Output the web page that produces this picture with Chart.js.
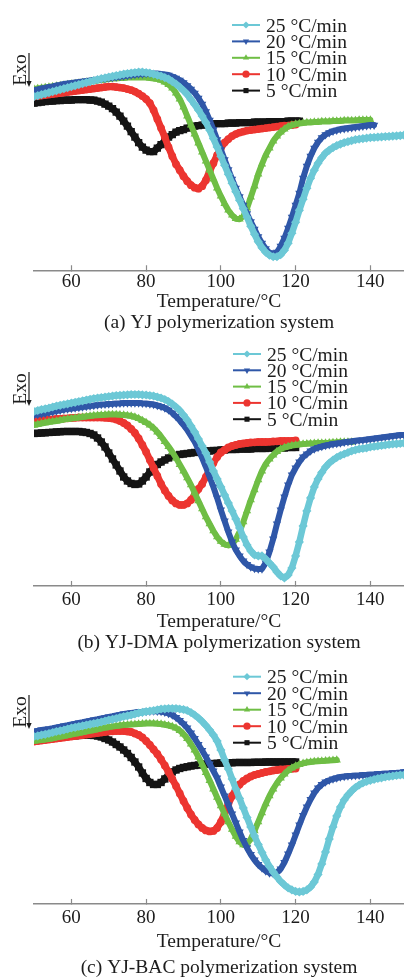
<!DOCTYPE html>
<html>
<head>
<meta charset="utf-8">
<script src="https://cdn.jsdelivr.net/npm/chart.js@4/dist/chart.umd.min.js"></script>
<style>
  html, body { margin: 0; padding: 0; background: #ffffff; }
  #sheet { position: relative; width: 404px; height: 978px; overflow: hidden; background: #ffffff; }
  .panel { position: absolute; left: 0; width: 404px; }
</style>
</head>
<body>
<div id="sheet">
  <div class="panel" style="top:0px;height:333px"><canvas id="dscYJ"></canvas></div>
  <div class="panel" style="top:330px;height:323px"><canvas id="dscDMA"></canvas></div>
  <div class="panel" style="top:650px;height:328px"><canvas id="dscBAC"></canvas></div>
</div>
<script>
// Temperature axis shared by every DSC trace (°C, one reading per degree)
const temperatureC = [
  50,51,52,53,54,55,56,57,58,59,60,61,62,63,64,65,66,67,68,69,
  70,71,72,73,74,75,76,77,78,79,80,81,82,83,84,85,86,87,88,89,
  90,91,92,93,94,95,96,97,98,99,100,101,102,103,104,105,106,107,108,109,
  110,111,112,113,114,115,116,117,118,119,120,121,122,123,124,125,126,127,128,129,
  130,131,132,133,134,135,136,137,138,139,140,141,142,143,144,145,146,147,148,149
];
const tempTicks = [60, 80, 100, 120, 140];
const rateLabels = ['25 °C/min', '20 °C/min', '15 °C/min', '10 °C/min', '5 °C/min'];

// Heat flow (arbitrary units, exo down) — YJ system
const yj25 = [1.735,1.745,1.755,1.765,1.775,1.785,1.795,1.805,1.815,1.825,
  1.835,1.845,1.855,1.865,1.875,1.885,1.895,1.905,1.915,1.922,
  1.93,1.937,1.945,1.952,1.96,1.965,1.97,1.975,1.98,1.98,
  1.975,1.97,1.96,1.95,1.94,1.925,1.91,1.885,1.86,1.83,
  1.795,1.755,1.705,1.655,1.60,1.54,1.475,1.40,1.315,1.23,
  1.14,1.05,0.96,0.87,0.785,0.70,0.615,0.53,0.44,0.36,
  0.285,0.225,0.18,0.15,0.135,0.135,0.155,0.20,0.27,0.37,
  0.48,0.60,0.71,0.82,0.92,1.00,1.07,1.125,1.17,1.20,
  1.225,1.245,1.26,1.275,1.285,1.295,1.305,1.31,1.315,1.32,
  1.325,1.327,1.33,1.332,1.335,1.337,1.34,1.342,1.345,1.35];
const yj20 = [1.80,1.807,1.815,1.822,1.83,1.837,1.845,1.852,1.86,1.865,
  1.87,1.875,1.88,1.885,1.89,1.895,1.90,1.905,1.91,1.915,
  1.92,1.925,1.93,1.935,1.94,1.945,1.95,1.955,1.96,1.962,
  1.965,1.965,1.965,1.965,1.96,1.955,1.95,1.935,1.92,1.90,
  1.875,1.845,1.81,1.77,1.72,1.66,1.585,1.50,1.405,1.305,
  1.205,1.105,1.005,0.91,0.82,0.735,0.65,0.565,0.485,0.41,
  0.335,0.27,0.215,0.175,0.16,0.18,0.24,0.32,0.42,0.53,
  0.65,0.77,0.92,1.04,1.14,1.22,1.28,1.325,1.355,1.375,
  1.39,1.40,1.41,1.415,1.42,1.425,1.43,1.435,1.44,1.445,
  1.45,1.45];
const yj15 = [1.81,1.815,1.82,1.825,1.83,1.835,1.84,1.845,1.85,1.855,
  1.86,1.865,1.87,1.875,1.88,1.885,1.89,1.895,1.90,1.905,
  1.91,1.915,1.915,1.92,1.92,1.925,1.925,1.925,1.925,1.925,
  1.925,1.92,1.915,1.91,1.90,1.88,1.855,1.82,1.77,1.71,
  1.63,1.54,1.45,1.36,1.27,1.18,1.09,1.00,0.91,0.82,
  0.74,0.665,0.60,0.55,0.515,0.51,0.54,0.62,0.73,0.84,
  0.96,1.06,1.15,1.22,1.29,1.34,1.38,1.41,1.435,1.45,
  1.46,1.465,1.47,1.475,1.475,1.48,1.48,1.485,1.485,1.485,
  1.49,1.49,1.49,1.495,1.495,1.495,1.495,1.50,1.50,1.50,
  1.50];
const yj10 = [1.735,1.74,1.745,1.75,1.755,1.76,1.765,1.77,1.775,1.78,
  1.785,1.79,1.795,1.80,1.805,1.81,1.815,1.82,1.825,1.83,
  1.835,1.835,1.83,1.825,1.82,1.81,1.80,1.785,1.765,1.74,
  1.71,1.67,1.60,1.51,1.42,1.33,1.23,1.14,1.06,1.00,
  0.94,0.89,0.85,0.825,0.815,0.84,0.90,0.99,1.07,1.15,
  1.22,1.275,1.31,1.34,1.36,1.375,1.385,1.395,1.40,1.405,
  1.41,1.415,1.42,1.425,1.43,1.435,1.44,1.445,1.445,1.45,
  1.455];
const yj5 = [1.67,1.675,1.68,1.685,1.69,1.69,1.695,1.695,1.70,1.70,
  1.70,1.705,1.705,1.705,1.705,1.70,1.70,1.69,1.68,1.66,
  1.64,1.615,1.58,1.54,1.49,1.44,1.385,1.33,1.275,1.23,
  1.20,1.185,1.185,1.22,1.255,1.29,1.33,1.355,1.38,1.395,
  1.405,1.42,1.43,1.44,1.445,1.45,1.455,1.46,1.46,1.465,
  1.465,1.465,1.47,1.47,1.47,1.475,1.475,1.475,1.475,1.48,
  1.48,1.48,1.48,1.485,1.485,1.485,1.485,1.485,1.49,1.49,
  1.49,1.49];

// Heat flow — YJ-DMA system
const dma25 = [1.745,1.755,1.765,1.772,1.78,1.79,1.80,1.807,1.815,1.822,
  1.83,1.837,1.845,1.852,1.86,1.867,1.875,1.88,1.885,1.89,
  1.895,1.90,1.905,1.907,1.91,1.912,1.915,1.915,1.915,1.912,
  1.91,1.905,1.90,1.89,1.88,1.865,1.845,1.82,1.79,1.755,
  1.71,1.66,1.60,1.54,1.47,1.40,1.33,1.24,1.15,1.07,
  0.99,0.91,0.83,0.75,0.67,0.58,0.49,0.41,0.35,0.31,
  0.30,0.30,0.27,0.23,0.19,0.14,0.10,0.08,0.11,0.18,
  0.30,0.44,0.60,0.75,0.88,0.99,1.07,1.135,1.19,1.23,
  1.26,1.285,1.305,1.32,1.335,1.35,1.36,1.37,1.375,1.38,
  1.39,1.395,1.40,1.405,1.41,1.415,1.42,1.422,1.425,1.43];
const dma20 = [1.71,1.715,1.72,1.727,1.735,1.742,1.75,1.757,1.765,1.77,
  1.775,1.78,1.785,1.79,1.795,1.80,1.805,1.81,1.815,1.817,
  1.82,1.822,1.825,1.827,1.83,1.83,1.83,1.83,1.83,1.827,
  1.825,1.82,1.815,1.805,1.795,1.78,1.76,1.73,1.695,1.655,
  1.61,1.56,1.50,1.44,1.365,1.28,1.19,1.09,0.99,0.88,
  0.76,0.65,0.54,0.44,0.36,0.30,0.25,0.215,0.19,0.175,
  0.17,0.17,0.23,0.34,0.47,0.62,0.76,0.89,1.01,1.11,
  1.18,1.24,1.29,1.32,1.35,1.37,1.385,1.395,1.405,1.412,
  1.42,1.425,1.43,1.437,1.442,1.447,1.452,1.457,1.46,1.465,
  1.47,1.475,1.48,1.485,1.49,1.495,1.50,1.505,1.51,1.51];
const dma15 = [1.61,1.617,1.625,1.632,1.64,1.645,1.65,1.657,1.665,1.67,
  1.675,1.68,1.685,1.69,1.695,1.70,1.705,1.707,1.71,1.712,
  1.715,1.715,1.715,1.712,1.71,1.705,1.70,1.69,1.675,1.655,
  1.635,1.61,1.58,1.54,1.495,1.445,1.395,1.34,1.28,1.215,
  1.15,1.08,1.01,0.93,0.85,0.77,0.69,0.62,0.55,0.49,
  0.445,0.415,0.405,0.42,0.465,0.54,0.64,0.75,0.86,0.96,
  1.06,1.15,1.22,1.27,1.31,1.345,1.37,1.385,1.395,1.405,
  1.41,1.415,1.42,1.422,1.425,1.427,1.43,1.43,1.43,1.432,
  1.435,1.437,1.44,1.44,1.44,1.44];
const dma10 = [1.645,1.65,1.655,1.66,1.665,1.667,1.67,1.672,1.675,1.677,
  1.68,1.682,1.685,1.685,1.685,1.685,1.685,1.685,1.685,1.682,
  1.68,1.675,1.665,1.65,1.63,1.605,1.57,1.53,1.475,1.41,
  1.34,1.26,1.18,1.10,1.02,0.955,0.90,0.855,0.825,0.81,
  0.81,0.825,0.86,0.91,0.97,1.02,1.09,1.16,1.23,1.29,
  1.335,1.36,1.385,1.40,1.41,1.42,1.425,1.43,1.435,1.437,
  1.44,1.44,1.44,1.442,1.445,1.447,1.45,1.45,1.45,1.452,
  1.455];
const dma5 = [1.525,1.527,1.53,1.532,1.535,1.537,1.54,1.542,1.545,1.545,
  1.545,1.545,1.545,1.54,1.535,1.525,1.51,1.48,1.44,1.39,
  1.33,1.27,1.21,1.15,1.09,1.05,1.025,1.015,1.02,1.05,
  1.09,1.14,1.18,1.215,1.24,1.26,1.28,1.295,1.305,1.315,
  1.32,1.325,1.33,1.335,1.34,1.345,1.35,1.35,1.355,1.355,
  1.36,1.36,1.365,1.365,1.365,1.37,1.37,1.37,1.37,1.375,
  1.375,1.375,1.375,1.38,1.38,1.38,1.38,1.38,1.385,1.385,
  1.385];

// Heat flow — YJ-BAC system
const bac25 = [1.675,1.682,1.69,1.697,1.705,1.715,1.725,1.732,1.74,1.75,
  1.76,1.767,1.775,1.782,1.79,1.797,1.805,1.812,1.82,1.83,
  1.84,1.847,1.855,1.865,1.875,1.882,1.89,1.90,1.91,1.917,
  1.925,1.93,1.935,1.942,1.95,1.952,1.955,1.955,1.955,1.95,
  1.945,1.935,1.915,1.89,1.86,1.825,1.785,1.74,1.69,1.63,
  1.54,1.44,1.35,1.25,1.15,1.055,0.96,0.865,0.77,0.68,
  0.595,0.515,0.44,0.375,0.32,0.27,0.225,0.19,0.16,0.14,
  0.125,0.12,0.125,0.14,0.17,0.22,0.295,0.40,0.52,0.65,
  0.77,0.88,0.97,1.04,1.09,1.13,1.165,1.19,1.21,1.225,
  1.235,1.245,1.255,1.262,1.27,1.275,1.28,1.285,1.29,1.29];
const bac20 = [1.725,1.732,1.74,1.745,1.75,1.757,1.765,1.772,1.78,1.787,
  1.795,1.802,1.81,1.817,1.825,1.832,1.84,1.847,1.855,1.862,
  1.87,1.877,1.885,1.892,1.90,1.905,1.91,1.915,1.92,1.922,
  1.925,1.927,1.93,1.928,1.925,1.917,1.905,1.89,1.865,1.835,
  1.80,1.76,1.71,1.655,1.595,1.535,1.47,1.40,1.33,1.26,
  1.17,1.08,0.99,0.90,0.81,0.72,0.635,0.56,0.495,0.44,
  0.395,0.36,0.33,0.31,0.305,0.315,0.35,0.415,0.50,0.59,
  0.69,0.79,0.885,0.97,1.045,1.11,1.16,1.195,1.22,1.237,
  1.25,1.26,1.27,1.275,1.28,1.282,1.285,1.287,1.29,1.292,
  1.295,1.297,1.30,1.302,1.305,1.307,1.31,1.312,1.315,1.32];
const bac15 = [1.63,1.635,1.64,1.645,1.65,1.657,1.665,1.672,1.68,1.687,
  1.695,1.702,1.71,1.717,1.725,1.732,1.74,1.747,1.755,1.762,
  1.77,1.775,1.78,1.785,1.79,1.792,1.795,1.797,1.80,1.802,
  1.805,1.805,1.805,1.802,1.80,1.792,1.785,1.775,1.76,1.735,
  1.70,1.655,1.60,1.54,1.47,1.395,1.315,1.235,1.15,1.065,
  0.98,0.90,0.82,0.745,0.675,0.62,0.59,0.60,0.65,0.73,
  0.82,0.91,1.00,1.08,1.15,1.21,1.26,1.30,1.335,1.36,
  1.38,1.395,1.407,1.415,1.42,1.425,1.428,1.43,1.432,1.435,
  1.437,1.44];
const bac10 = [1.625,1.63,1.635,1.64,1.645,1.65,1.655,1.66,1.665,1.67,
  1.675,1.68,1.685,1.69,1.695,1.70,1.705,1.71,1.715,1.72,
  1.725,1.727,1.73,1.73,1.73,1.725,1.72,1.705,1.69,1.665,
  1.63,1.59,1.545,1.50,1.445,1.385,1.32,1.25,1.18,1.105,
  1.03,0.96,0.895,0.84,0.795,0.76,0.735,0.725,0.73,0.76,
  0.82,0.905,1.00,1.08,1.145,1.195,1.23,1.255,1.275,1.29,
  1.30,1.31,1.32,1.327,1.335,1.34,1.345,1.347,1.35,1.352,
  1.355];
const bac5 = [1.64,1.645,1.65,1.655,1.66,1.665,1.67,1.672,1.675,1.677,
  1.68,1.682,1.685,1.687,1.69,1.69,1.685,1.68,1.67,1.655,
  1.64,1.62,1.595,1.57,1.54,1.505,1.465,1.42,1.37,1.31,
  1.255,1.215,1.195,1.195,1.215,1.25,1.29,1.32,1.34,1.355,
  1.365,1.372,1.38,1.385,1.39,1.395,1.40,1.402,1.405,1.407,
  1.41,1.41,1.412,1.412,1.415,1.415,1.415,1.415,1.415,1.417,
  1.417,1.417,1.42,1.42,1.42,1.42,1.42,1.42,1.42,1.42,
  1.42];

// Styling for each heating rate (same order as rateLabels)
const rateColors = ['#6cc8d6', '#2f57a8', '#6fbe45', '#ec3530', '#141414'];
const rateMarkers = [
  { style: 'rectRot',  rotation: 0,   radius: 4.6, line: 6.5 },
  { style: 'triangle', rotation: 180, radius: 4.8, line: 6 },
  { style: 'triangle', rotation: 0,   radius: 4.8, line: 6 },
  { style: 'circle',   rotation: 0,   radius: 3.9, line: 7 },
  { style: 'rect',     rotation: 0,   radius: 5.2, line: 7 }
];
const serif = "'Liberation Serif', 'Times New Roman', serif";
const inkColor = '#1c1c1c';
const axisGray = '#8a8a8a';

// Legend block and the "Exo" direction marker, drawn over the plot
const overlayPlugin = {
  id: 'dscOverlay',
  afterDatasetsDraw(chart, args, opts) {
    const ctx = chart.ctx;
    const helpers = Chart.helpers || {};
    ctx.save();
    chart.data.datasets.forEach((ds, i) => {
      const y = opts.legendTop + i * opts.legendStep;
      const x0 = opts.legendLeft;
      ctx.strokeStyle = ds.borderColor;
      ctx.lineWidth = 2;
      ctx.beginPath();
      ctx.moveTo(x0, y);
      ctx.lineTo(x0 + 28, y);
      ctx.stroke();
      ctx.fillStyle = ds.borderColor;
      if (helpers.drawPoint) {
        helpers.drawPoint(ctx, { pointStyle: ds.pointStyle, rotation: ds.pointRotation, radius: 3.6, borderWidth: 0 }, x0 + 14, y);
      } else {
        ctx.beginPath(); ctx.arc(x0 + 14, y, 3, 0, Math.PI * 2); ctx.fill();
      }
      ctx.fillStyle = inkColor;
      ctx.font = '19.5px ' + serif;
      ctx.textAlign = 'left';
      ctx.textBaseline = 'alphabetic';
      ctx.fillText(ds.label, x0 + 34, y + 6.5);
    });

    // "Exo" written upward with its downward arrow
    const ax = chart.chartArea.left - 5;
    const top = opts.exoTop;
    const len = 34;
    ctx.save();
    ctx.translate(ax - 3, top + 17);
    ctx.rotate(-Math.PI / 2);
    ctx.fillStyle = inkColor;
    ctx.font = '19.5px ' + serif;
    ctx.textAlign = 'center';
    ctx.textBaseline = 'alphabetic';
    ctx.fillText('Exo', 0, 0);
    ctx.restore();
    ctx.strokeStyle = inkColor;
    ctx.lineWidth = 1.2;
    ctx.beginPath();
    ctx.moveTo(ax, top);
    ctx.lineTo(ax, top + len - 4);
    ctx.stroke();
    ctx.fillStyle = inkColor;
    ctx.beginPath();
    ctx.moveTo(ax - 2.6, top + len - 6);
    ctx.lineTo(ax + 2.6, top + len - 6);
    ctx.lineTo(ax, top + len);
    ctx.closePath();
    ctx.fill();
    ctx.restore();
  }
};

function buildPanel(canvasId, seriesList, caption, lay) {
  const datasets = seriesList.map((values, i) => ({
    label: rateLabels[i],
    data: values.map((v, k) => ({ x: temperatureC[k], y: v })),
    borderColor: rateColors[i],
    backgroundColor: rateColors[i],
    pointBackgroundColor: rateColors[i],
    pointStyle: rateMarkers[i].style,
    pointRotation: rateMarkers[i].rotation,
    pointRadius: rateMarkers[i].radius,
    pointBorderWidth: 0,
    borderWidth: rateMarkers[i].line,
    borderJoinStyle: 'round',
    borderCapStyle: 'round',
    tension: 0,
    fill: false
  }));

  return new Chart(document.getElementById(canvasId), {
    type: 'line',
    data: { datasets },
    plugins: [overlayPlugin],
    options: {
      responsive: true,
      maintainAspectRatio: false,
      devicePixelRatio: 1,
      animation: false,
      events: [],
      layout: { autoPadding: false, padding: { left: 34, right: 0, top: lay.padTop, bottom: 0 } },
      scales: {
        x: {
          type: 'linear',
          min: 50,
          max: 149,
          border: { display: true, color: axisGray, width: 1.5 },
          grid: { display: true, drawOnChartArea: false, drawTicks: true, tickLength: -5, tickWidth: 1.2, tickColor: axisGray, color: axisGray },
          ticks: { color: inkColor, padding: lay.tickPad, includeBounds: false, font: { family: serif, size: 19, lineHeight: 1 } },
          afterBuildTicks: scale => { scale.ticks = tempTicks.map(v => ({ value: v })); },
          title: { display: true, text: 'Temperature/°C', color: inkColor, font: { family: serif, size: 19.5, lineHeight: 1 }, padding: { top: lay.titlePad, bottom: 0 } }
        },
        y: { display: false, min: 0, max: 2.3 }
      },
      plugins: {
        legend: { display: false },
        tooltip: { enabled: false },
        title: {
          display: true,
          position: 'bottom',
          fullSize: false,
          text: caption,
          color: inkColor,
          font: { family: serif, size: 19.5, weight: 'normal', lineHeight: 1 },
          padding: { top: lay.captionPad, bottom: 0 }
        },
        dscOverlay: { legendTop: lay.legendTop, legendStep: lay.legendStep, legendLeft: lay.legendLeft, exoTop: lay.exoTop }
      }
    }
  });
}

buildPanel('dscYJ', [yj25, yj20, yj15, yj10, yj5], '(a) YJ polymerization system',
  { padTop: 40, tickPad: 7.2, titlePad: -6.45, captionPad: 1.8, legendTop: 25, legendStep: 16.4, legendLeft: 232, exoTop: 53 });
buildPanel('dscDMA', [dma25, dma20, dma15, dma10, dma5], '(b) YJ-DMA polymerization system',
  { padTop: 26, tickPad: 9.5, titlePad: -7.05, captionPad: 2.1, legendTop: 24, legendStep: 16.3, legendLeft: 233, exoTop: 42 });
buildPanel('dscBAC', [bac25, bac20, bac15, bac10, bac5], '(c) YJ-BAC polymerization system',
  { padTop: 24, tickPad: 9.2, titlePad: -3.85, captionPad: 6.5, legendTop: 26.7, legendStep: 16.5, legendLeft: 233, exoTop: 45 });
</script>
</body>
</html>
